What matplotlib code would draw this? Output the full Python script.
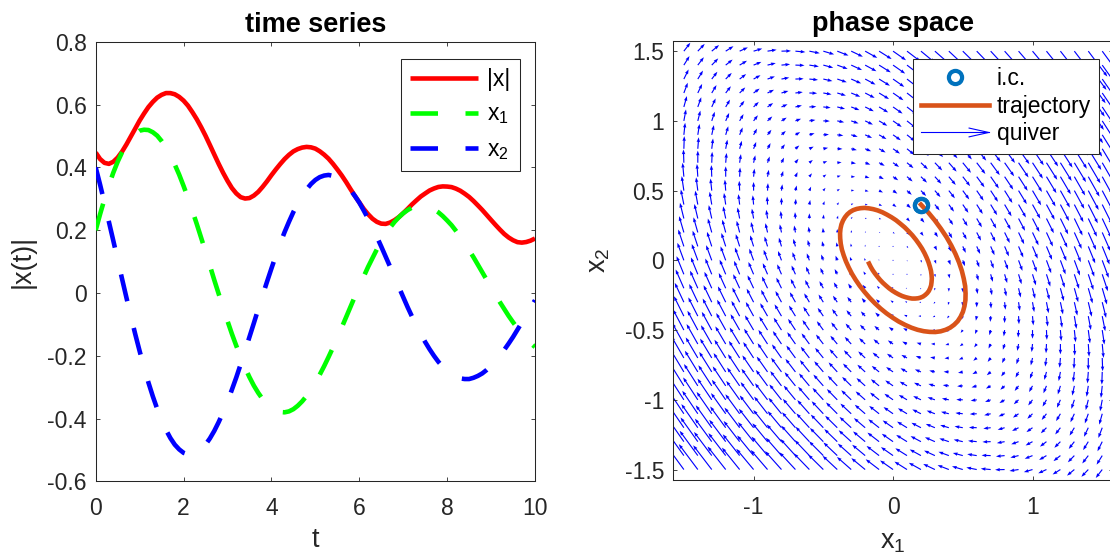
import numpy as np
import matplotlib
matplotlib.use('Agg')
import matplotlib.pyplot as plt
from matplotlib.lines import Line2D
from matplotlib.legend_handler import HandlerBase

# ---------------- data ----------------
t = np.linspace(0, 10, 101)
x1 = [0.200, 0.251, 0.299, 0.343, 0.383, 0.418, 0.448, 0.473, 0.493, 0.507,
      0.517, 0.520, 0.519, 0.512, 0.501, 0.484, 0.464, 0.438, 0.409, 0.377,
      0.341, 0.303, 0.262, 0.220, 0.176, 0.132, 0.087, 0.041, -0.003, -0.047,
      -0.089, -0.130, -0.168, -0.204, -0.238, -0.268, -0.295, -0.318, -0.338, -0.354,
      -0.367, -0.375, -0.379, -0.380, -0.377, -0.370, -0.359, -0.345, -0.328, -0.308,
      -0.286, -0.260, -0.233, -0.204, -0.174, -0.142, -0.110, -0.077, -0.044, -0.011,
      0.021, 0.052, 0.083, 0.111, 0.139, 0.164, 0.187, 0.208, 0.226, 0.241,
      0.254, 0.264, 0.272, 0.276, 0.278, 0.276, 0.273, 0.266, 0.257, 0.245,
      0.231, 0.216, 0.198, 0.179, 0.158, 0.136, 0.114, 0.090, 0.066, 0.042,
      0.018, -0.006, -0.029, -0.051, -0.073, -0.093, -0.112, -0.130, -0.146, -0.160,
      -0.172]
x2 = [0.400, 0.345, 0.287, 0.227, 0.167, 0.106, 0.045, -0.015, -0.074, -0.131,
      -0.185, -0.237, -0.285, -0.329, -0.369, -0.405, -0.436, -0.462, -0.483, -0.498,
      -0.509, -0.514, -0.513, -0.508, -0.498, -0.483, -0.463, -0.439, -0.411, -0.380,
      -0.346, -0.308, -0.269, -0.227, -0.184, -0.140, -0.096, -0.051, -0.007, 0.036,
      0.078, 0.119, 0.158, 0.194, 0.227, 0.258, 0.285, 0.309, 0.330, 0.347,
      0.360, 0.369, 0.374, 0.376, 0.373, 0.367, 0.358, 0.345, 0.328, 0.309,
      0.288, 0.263, 0.237, 0.209, 0.179, 0.148, 0.116, 0.084, 0.051, 0.019,
      -0.013, -0.045, -0.075, -0.104, -0.131, -0.156, -0.179, -0.200, -0.219, -0.235,
      -0.248, -0.259, -0.267, -0.272, -0.274, -0.274, -0.270, -0.264, -0.256, -0.245,
      -0.232, -0.217, -0.200, -0.181, -0.161, -0.140, -0.117, -0.094, -0.071, -0.047,
      -0.023]
ic = [0.2, 0.4]
field_matrix = [[0.5, 1.0], [-1.35, -0.7]]
grid_vals = np.round(np.arange(-1.5, 1.5001, 0.1), 10)
arrow_scale = 0.062

left_xticks = [0, 2, 4, 6, 8, 10]
left_yticks = [-0.6, -0.4, -0.2, 0, 0.2, 0.4, 0.6, 0.8]
left_yticklabels = ['-0.6', '-0.4', '-0.2', '0', '0.2', '0.4', '0.6', '0.8']
right_xticks = [-1, 0, 1]
right_xticklabels = ['-1', '0', '1']
right_yticks = [-1.5, -1, -0.5, 0, 0.5, 1, 1.5]
right_yticklabels = ['-1.5', '-1', '-0.5', '0', '0.5', '1', '1.5']

# ---------------- style ----------------
plt.rcParams['font.family'] = ['Liberation Sans', 'DejaVu Sans']
plt.rcParams['mathtext.fontset'] = 'custom'
plt.rcParams['mathtext.rm'] = 'Liberation Sans'
plt.rcParams['mathtext.it'] = 'Liberation Sans'
plt.rcParams['axes.unicode_minus'] = False

TXT = '#262626'
TICK_FS = 16.5
TITLE_FS = 19.5
LABEL_FS = 19.5
LEG_FS = 16.5

fig = plt.figure(figsize=(11.10, 5.58), dpi=100)
W, H = 1110.0, 558.0


def style_axes(ax):
    for sp in ax.spines.values():
        sp.set_color(TXT)
        sp.set_linewidth(0.75)
    ax.tick_params(direction='in', top=True, right=True, length=3.2,
                   width=0.6, colors=TXT, labelsize=TICK_FS)
    ax.tick_params(axis='x', pad=11.5)
    ax.tick_params(axis='y', pad=6.5)


# ---------------- left: time series ----------------
ax1 = fig.add_axes([95.7 / W, (H - 481.4) / H, 439.3 / W, 439.6 / H])
xnorm = np.hypot(x1, x2)
lw = 3.3
dash = (6.0, 6.0)
l0, = ax1.plot(t, xnorm, color='red', lw=lw, solid_capstyle='butt',
               solid_joinstyle='round', label='|x|', zorder=2)
l1, = ax1.plot(t, x1, color=(0, 1, 0), lw=lw, dashes=dash, dash_capstyle='butt',
               dash_joinstyle='round', label=r'$\mathregular{x_1}$', zorder=3)
l2, = ax1.plot(t, x2, color=(0, 0, 1), lw=lw, dashes=dash, dash_capstyle='butt',
               dash_joinstyle='round', label=r'$\mathregular{x_2}$', zorder=4)
ax1.set_xlim(0, 10)
ax1.set_ylim(-0.6, 0.8)
ax1.set_xticks(left_xticks)
ax1.set_xticklabels([str(v) for v in left_xticks])
ax1.set_yticks(left_yticks)
ax1.set_yticklabels(left_yticklabels)
style_axes(ax1)
ax1.set_title('time series', fontsize=TITLE_FS, fontweight='bold', pad=7)
ax1.set_xlabel('t', fontsize=LABEL_FS, color=TXT, labelpad=5)
ax1.set_ylabel('|x(t)|', fontsize=LABEL_FS, color=TXT, labelpad=8)
leg1 = ax1.legend(handles=[l0, l1, l2], loc='upper right',
                  bbox_to_anchor=(1 - 15.4 / 439.3, 1 - 17.1 / 439.6),
                  borderaxespad=0, fontsize=LEG_FS, handlelength=2.95,
                  handletextpad=0.4, labelspacing=0.5, borderpad=0.4,
                  fancybox=False, framealpha=1, edgecolor=TXT)
leg1.get_frame().set_linewidth(0.75)
for txt in leg1.get_texts():
    txt.set_color('black')

# ---------------- right: phase space ----------------
ax2 = fig.add_axes([673.4 / W, (H - 480.0) / H, 439.3 / W, 439.3 / H])
X, Y = np.meshgrid(grid_vals, grid_vals)
U = field_matrix[0][0] * X + field_matrix[0][1] * Y
V = field_matrix[1][0] * X + field_matrix[1][1] * Y
q = ax2.quiver(X, Y, U, V, color=(0, 0, 1), angles='xy', scale_units='xy',
               scale=1 / arrow_scale, width=0.0026, headwidth=3.0, headlength=4.2,
               headaxislength=3.9, zorder=1)
ic_line, = ax2.plot([ic[0]], [ic[1]], 'o', ms=9.5, mew=3.0, mec='#0072BD',
                    mfc='white', zorder=2, linestyle='none')
traj, = ax2.plot(x1, x2, color='#D95319', lw=3.3, solid_joinstyle='round', zorder=3)
ax2.plot([ic[0]], [ic[1]], 'o', ms=9.5, mew=3.0, mec='#0072BD',
         mfc='none', zorder=4)
ax2.set_xlim(-1.575, 1.575)
ax2.set_ylim(-1.575, 1.575)
ax2.set_xticks(right_xticks)
ax2.set_xticklabels(right_xticklabels)
ax2.set_yticks(right_yticks)
ax2.set_yticklabels(right_yticklabels)
style_axes(ax2)
ax2.set_title('phase space', fontsize=TITLE_FS, fontweight='bold', pad=7)
ax2.set_xlabel(r'$\mathregular{x_1}$', fontsize=LABEL_FS, color=TXT, labelpad=7)
ax2.set_ylabel(r'$\mathregular{x_2}$', fontsize=LABEL_FS, color=TXT, labelpad=9)


class ArrowHandler(HandlerBase):
    def create_artists(self, legend, orig_handle, xdescent, ydescent,
                       width, height, fontsize, trans):
        y = height / 2 - ydescent
        xa = -xdescent
        xb = width - xdescent
        hl = 0.29 * width
        hw = 0.065 * width
        shaft = Line2D([xa, xb], [y, y], color=(0, 0, 1), lw=0.8, transform=trans)
        head = Line2D([xb - hl, xb, xb - hl], [y + hw, y, y - hw],
                      color=(0, 0, 1), lw=0.8, transform=trans)
        return [shaft, head]


leg2 = ax2.legend(handles=[ic_line, traj, q], labels=['i.c.', 'trajectory', 'quiver'],
                  handler_map={q: ArrowHandler()}, loc='upper right',
                  bbox_to_anchor=(1 - 13.7 / 439.3, 1 - 18.6 / 439.3),
                  borderaxespad=0, fontsize=LEG_FS, handlelength=2.95,
                  handletextpad=0.35, labelspacing=0.2, borderpad=0.35,
                  fancybox=False, framealpha=1, edgecolor=TXT)
leg2.get_frame().set_linewidth(0.75)
leg2.set_zorder(10)
for txt in leg2.get_texts():
    txt.set_color('black')

fig.savefig('out.png', dpi=100)
